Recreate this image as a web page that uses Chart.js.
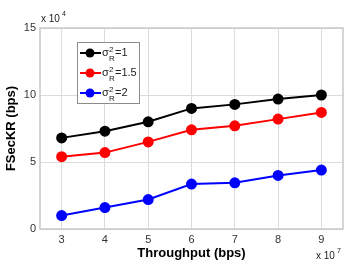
<!DOCTYPE html>
<html>
<head>
<meta charset="utf-8">
<script src="https://cdn.jsdelivr.net/npm/chart.js@4.4.1/dist/chart.umd.min.js"></script>
<style>
  html, body { margin: 0; padding: 0; background: #fff; }
  #wrap { width: 351px; height: 265px; }
</style>
</head>
<body>
<div id="wrap"><canvas id="fsChart" width="351" height="265"></canvas></div>
<script>
// throughput in units of 10^7 bps, FSecKR in units of 10^4 bps
const throughput = [3, 4, 5, 6, 7, 8, 9];
const sigma1 = [6.8, 7.3, 8.0, 9.0, 9.3, 9.7, 10.0];
const sigma15 = [5.4, 5.7, 6.5, 7.4, 7.7, 8.2, 8.7];
const sigma2 = [1.0, 1.6, 2.2, 3.35, 3.45, 4.0, 4.4];
const seriesNames = ['1', '1.5', '2'];
const seriesColors = ['#000000', '#ff0000', '#0000ff'];

const FONT = '"Liberation Sans", Arial, sans-serif';

function toPoints(vals) {
    return vals.map((v, i) => ({ x: throughput[i], y: v }));
}

// frame, exponent labels and the sigma legend
const extras = {
    id: 'extras',
    afterDraw(chart) {
        const { ctx, chartArea: a } = chart;
        ctx.save();
        ctx.strokeStyle = '#c8c8c8';
        ctx.lineWidth = 1.5;
        ctx.strokeRect(a.left, a.top, a.right - a.left, a.bottom - a.top);

        ctx.fillStyle = '#222';
        ctx.textBaseline = 'alphabetic';
        ctx.font = '10px ' + FONT;
        ctx.fillText('x 10', 41, 22);
        ctx.font = '7px ' + FONT;
        ctx.fillText('4', 62, 16);
        ctx.font = '10px ' + FONT;
        ctx.fillText('x 10', 316, 259);
        ctx.font = '7px ' + FONT;
        ctx.fillText('7', 337, 253);

        // legend box
        const bx = 77, by = 42, bw = 62, bh = 61;
        ctx.fillStyle = '#fff';
        ctx.fillRect(bx, by, bw, bh);
        ctx.strokeStyle = '#8c8c8c';
        ctx.lineWidth = 1;
        ctx.strokeRect(bx + 0.5, by + 0.5, bw, bh);
        seriesNames.forEach((name, i) => {
            const y = 53 + i * 20;
            ctx.strokeStyle = seriesColors[i];
            ctx.lineWidth = 2;
            ctx.beginPath();
            ctx.moveTo(80, y); ctx.lineTo(101, y); ctx.stroke();
            ctx.fillStyle = seriesColors[i];
            ctx.beginPath();
            ctx.arc(90, y, 4.5, 0, Math.PI * 2); ctx.fill();
            ctx.fillStyle = '#222';
            ctx.font = '11px ' + FONT;
            ctx.fillText('σ', 102, y + 3);
            ctx.font = '8px ' + FONT;
            ctx.fillText('2', 109, y - 1);
            ctx.fillText('R', 109, y + 8);
            ctx.font = '11px ' + FONT;
            ctx.fillText('=' + name, 115, y + 3);
        });
        ctx.restore();
    }
};

new Chart(document.getElementById('fsChart'), {
    type: 'line',
    data: {
        datasets: [
            { label: 'σR²=1', data: toPoints(sigma1) },
            { label: 'σR²=1.5', data: toPoints(sigma15) },
            { label: 'σR²=2', data: toPoints(sigma2) }
        ].map((d, i) => Object.assign(d, {
            borderColor: seriesColors[i],
            backgroundColor: seriesColors[i],
            borderWidth: 2,
            pointRadius: 4.5,
            pointHoverRadius: 4.5,
            tension: 0
        }))
    },
    options: {
        responsive: false,
        animation: false,
        layout: { padding: { top: 28, right: 8, left: 0, bottom: 0 } },
        plugins: { legend: { display: false }, tooltip: { enabled: false } },
        scales: {
            x: {
                type: 'linear', min: 2.5, max: 9.5,
                afterBuildTicks: s => { s.ticks = throughput.map(v => ({ value: v })); },
                afterFit: s => { s.height = 36; },
                grid: { color: '#dcdcdc', tickLength: 0, borderDash: [1, 2] },
                border: { display: false },
                ticks: { color: '#333', font: { family: FONT, size: 11 }, padding: 4 },
                title: { display: true, text: 'Throughput (bps)', color: '#000',
                         font: { family: FONT, size: 13, weight: 'bold' }, padding: { top: 0 } }
            },
            y: {
                min: 0, max: 15,
                ticks: { stepSize: 5, color: '#333', font: { family: FONT, size: 11 }, padding: 4 },
                afterFit: s => { s.width = 40; },
                grid: { color: '#dcdcdc', tickLength: 0, borderDash: [1, 2] },
                border: { display: false },
                title: { display: true, text: 'FSecKR (bps)', color: '#000',
                         font: { family: FONT, size: 13, weight: 'bold' }, padding: { bottom: 1 } }
            }
        }
    },
    plugins: [extras]
});
</script>
</body>
</html>
